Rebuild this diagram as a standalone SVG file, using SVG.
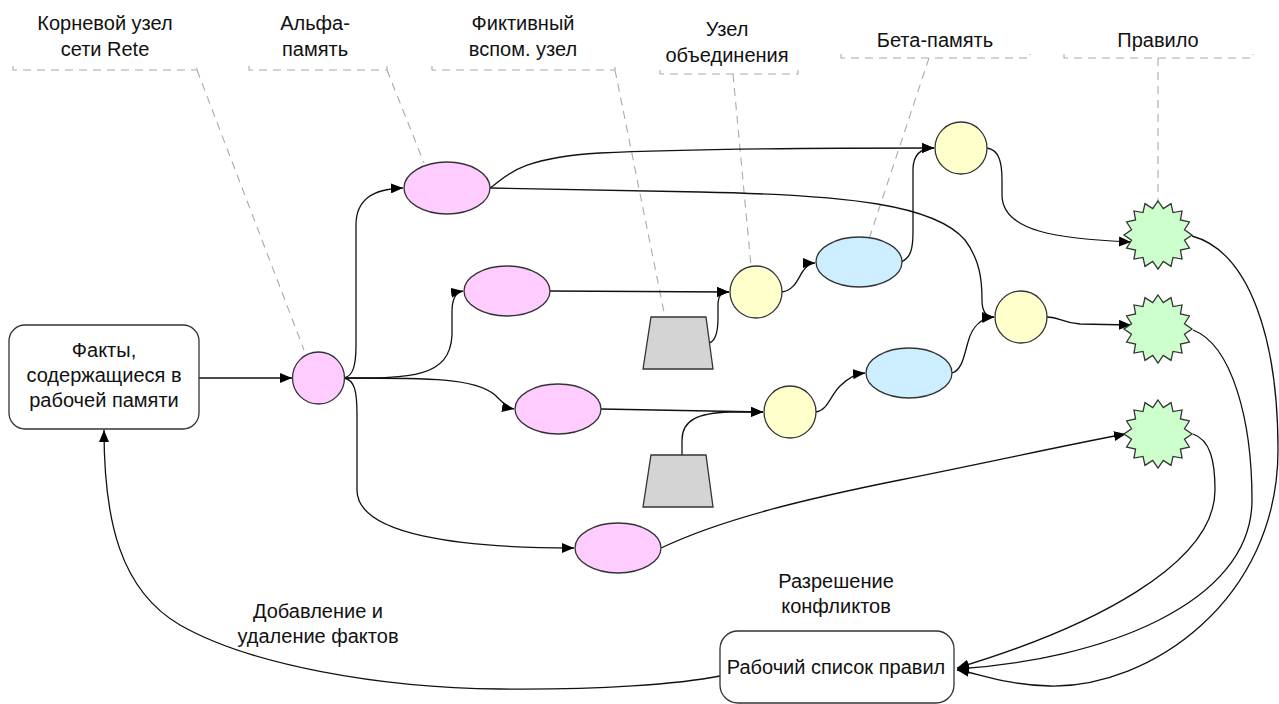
<svg xmlns="http://www.w3.org/2000/svg" xmlns:xlink="http://www.w3.org/1999/xlink" width="1279" height="704" viewBox="0 0 1279 704">
<style>
text{font-family:"Liberation Sans",Arial,sans-serif;font-size:20px;fill:#111;text-anchor:middle}
.nd{stroke:#333;stroke-width:1.3}
.alpha{fill:#ffccff}
.join{fill:#ffffcc}
.beta{fill:#cceeff}
.rule{fill:#ccffcc}
.dummy{fill:#d4d4d4}
.box{fill:#fff}
.e{fill:none;stroke:#111;stroke-width:1.3}
.ea{marker-end:url(#arr)}
.co{fill:none;stroke:#aaa;stroke-width:1.1;stroke-dasharray:8 6}
</style>
<defs>
<marker id="arr" viewBox="0 0 12 10" refX="12" refY="5" markerWidth="12" markerHeight="10" markerUnits="userSpaceOnUse" orient="auto"><path d="M0,0 L12,5 L0,10 z" fill="#000"/></marker>
<polygon id="star" points="0,-34 5.27,-26.48 13.01,-31.41 15,-22.45 24.04,-24.04 22.45,-15 31.41,-13.01 26.48,-5.27 34,0 26.48,5.27 31.41,13.01 22.45,15 24.04,24.04 15,22.45 13.01,31.41 5.27,26.48 0,34 -5.27,26.48 -13.01,31.41 -15,22.45 -24.04,24.04 -22.45,15 -31.41,13.01 -26.48,5.27 -34,0 -26.48,-5.27 -31.41,-13.01 -22.45,-15 -24.04,-24.04 -15,-22.45 -13.01,-31.41 -5.27,-26.48"/>
</defs>
<rect width="1279" height="704" fill="#fff"/>

<g id="callouts">
<path class="co" d="M13,66 L13,70 L197,70 L197,66 M197,70 L304,350"/>
<path class="co" d="M249,66 L249,70 L387,70 L387,66 M387,70 L424,163"/>
<path class="co" d="M432,66 L432,70 L615,70 L615,66 M615,70 L665,317"/>
<path class="co" d="M660,70 L660,74 L798,74 L798,70 M733,74 L751,266"/>
<path class="co" d="M841,54 L841,58 L1030,58 L1030,54 M929,58 L869,239"/>
<path class="co" d="M1064,54 L1064,58 L1253,58 L1253,54 M1158,58 L1158,201"/>
</g>

<g id="labels">
<text x="105" y="30">Корневой узел</text>
<text x="105" y="56">сети Rete</text>
<text x="315" y="30">Альфа-</text>
<text x="315" y="56">память</text>
<text x="523" y="30">Фиктивный</text>
<text x="523" y="56">вспом. узел</text>
<text x="727" y="36">Узел</text>
<text x="727" y="62">объединения</text>
<text x="935" y="47">Бета-память</text>
<text x="1158" y="47">Правило</text>
<text x="836" y="588">Разрешение</text>
<text x="836" y="613">конфликтов</text>
<text x="318" y="618">Добавление и</text>
<text x="318" y="643">удаление фактов</text>
</g>

<g id="connectors">
<path class="e ea" d="M199,378 L292,378"/>
<path class="e ea" d="M344,378 C353,376 356,366 356,345 L356,225 C356,200 372,189 403,188"/>
<path class="e ea" d="M344,378 C410,378 450,378 452,335 L452,312 C452,298 456,292 463,291"/>
<path class="e ea" d="M344,378 C430,378 475,378 495,395 C503,403 508,408 514,409"/>
<path class="e ea" d="M344,378 C355,380 357,392 357,415 L357,490 C357,535 460,548 574,548"/>
<path class="e ea" d="M490,188 C505,178 515,158 600,153 C700,148 850,148 934,148"/>
<path class="e ea" d="M490,188 L700,192 C850,195 935,205 965,240 C980,260 982,280 982,300 C982,312 987,317 994,317"/>
<path class="e ea" d="M550,291 L729,292"/>
<path class="e ea" d="M709,343 C716,341 718,332 718,318 L718,305 C718,296 721,292 729,292"/>
<path class="e ea" d="M782,292 C795,290 798,278 803,271 C807,265 810,263 815,263"/>
<path class="e ea" d="M901,262 C911,258 913,248 913,232 L913,170 C913,155 920,148 934,148"/>
<path class="e ea" d="M987,148 C999,150 1002,162 1002,180 L1002,195 C1002,232 1060,239 1131,242"/>
<path class="e ea" d="M1047,317 C1060,317 1062,323 1080,324 L1131,325"/>
<path class="e ea" d="M601,409 L763,412"/>
<path class="e ea" d="M682,455 L682,440 C682,420 698,413 730,412 L763,412"/>
<path class="e ea" d="M816,412 C828,410 830,396 840,386 C848,378 855,374 865,373"/>
<path class="e ea" d="M952,373 C962,370 964,356 968,342 C972,326 982,318 994,317"/>
<path class="e ea" d="M661,548 C720,520 800,500 900,480 C1000,460 1080,442 1126,434"/>
<path class="e ea" d="M1192,236 C1250,252 1278,340 1278,450 C1278,600 1150,688 1050,686 C1005,685 978,673 957,670"/>
<path class="e ea" d="M1193,330 C1232,345 1252,420 1252,500 C1252,605 1100,660 957,669"/>
<path class="e ea" d="M1193,434 C1210,440 1215,460 1215,490 C1215,565 1090,628 957,668"/>
<path class="e ea" d="M720,676 C680,684 600,690 500,689 C380,688 250,665 180,625 C120,590 104,520 104,430"/>
</g>

<g id="facts">
<rect class="nd box" x="9" y="325" width="190" height="104" rx="16"/>
<text x="104" y="357">Факты,</text>
<text x="104" y="382">содержащиеся в</text>
<text x="104" y="407">рабочей памяти</text>
</g>
<g id="root"><circle class="nd alpha" cx="318.5" cy="378" r="26"/></g>
<g id="alpha1"><ellipse class="nd alpha" cx="447" cy="188" rx="43" ry="26"/></g>
<g id="alpha2"><ellipse class="nd alpha" cx="507" cy="291" rx="43" ry="25"/></g>
<g id="alpha3"><ellipse class="nd alpha" cx="558" cy="409" rx="43" ry="25"/></g>
<g id="alpha4"><ellipse class="nd alpha" cx="618" cy="548" rx="43" ry="25"/></g>
<g id="dummy1"><polygon class="nd dummy" points="651,317 706,317 713,369 643,369"/></g>
<g id="dummy2"><polygon class="nd dummy" points="651,455 706,455 713,507 643,507"/></g>
<g id="join1"><circle class="nd join" cx="756" cy="292" r="26"/></g>
<g id="join2"><circle class="nd join" cx="790" cy="412" r="26"/></g>
<g id="join3"><circle class="nd join" cx="961" cy="148" r="26"/></g>
<g id="join4"><circle class="nd join" cx="1021" cy="317" r="26"/></g>
<g id="beta1"><ellipse class="nd beta" cx="859" cy="262" rx="43" ry="25"/></g>
<g id="beta2"><ellipse class="nd beta" cx="909" cy="373" rx="43" ry="25"/></g>
<g id="rule1"><use xlink:href="#star" class="nd rule" x="1158" y="235"/></g>
<g id="rule2"><use xlink:href="#star" class="nd rule" x="1158" y="329"/></g>
<g id="rule3"><use xlink:href="#star" class="nd rule" x="1158" y="434"/></g>
<g id="agenda">
<rect class="nd box" x="720" y="631" width="234" height="72" rx="18"/>
<text x="836" y="674">Рабочий список правил</text>
</g>
</svg>
